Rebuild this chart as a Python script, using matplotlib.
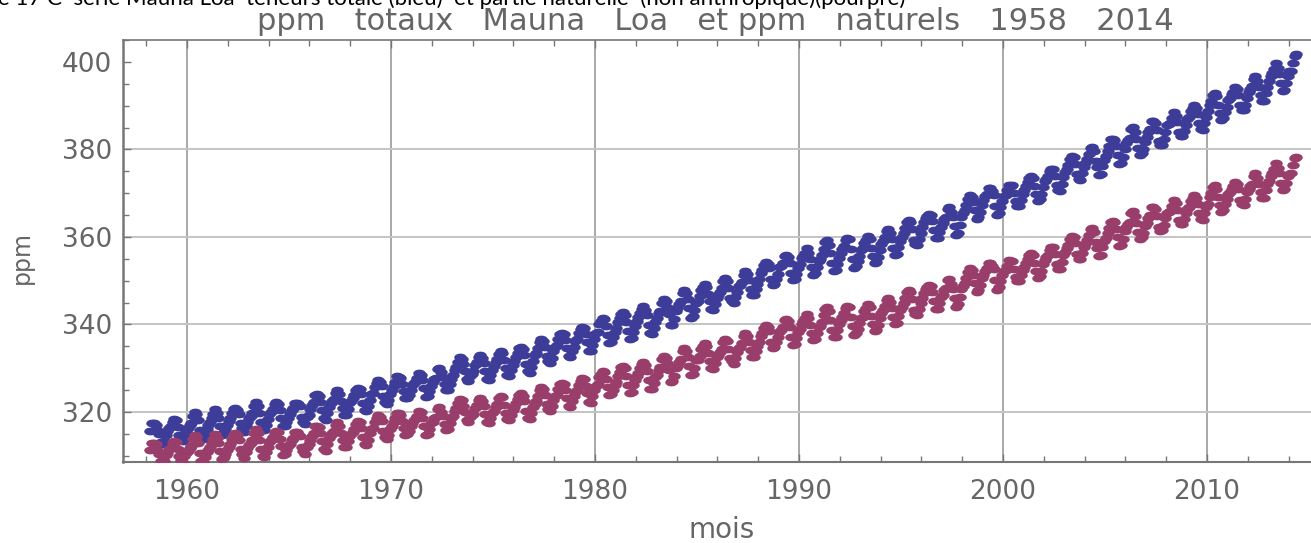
import numpy as np
import matplotlib
matplotlib.use("Agg")
import matplotlib.pyplot as plt
from matplotlib.path import Path
from matplotlib.ticker import MultipleLocator, FixedLocator

# ---------------- data ----------------
start_year = 1958
start_month = 3  # first monthly value is March 1958

# total ppm (blue), monthly, Mar 1958 -> May 2014
total_ppm = [
    315.71, 317.45, 317.50, 317.10, 315.86, 314.93, 313.20, 312.66, 313.33, 314.67,
    315.62, 316.38, 316.71, 317.72, 318.29, 318.15, 316.54, 314.80, 313.84, 313.26, 314.80, 315.58,
    316.43, 316.97, 317.58, 319.02, 320.03, 319.59, 318.18, 315.91, 314.16, 313.83, 315.00, 316.19,
    316.93, 317.70, 318.54, 319.48, 320.58, 319.77, 318.57, 316.79, 314.80, 315.38, 316.10, 317.01,
    317.94, 318.56, 319.68, 320.63, 321.01, 320.55, 319.58, 317.40, 316.26, 315.42, 316.69, 317.69,
    318.74, 319.08, 319.86, 321.39, 322.25, 321.47, 319.74, 317.77, 316.21, 315.99, 317.12, 318.31,
    319.57, 320.07, 320.73, 321.77, 322.25, 321.89, 320.44, 318.70, 316.70, 316.79, 317.79, 318.71,
    319.44, 320.44, 320.89, 322.13, 322.16, 321.87, 321.39, 318.81, 317.81, 317.30, 318.87, 319.42,
    320.62, 321.59, 322.39, 323.87, 324.01, 323.75, 322.39, 320.37, 318.64, 318.10, 319.79, 321.08,
    322.07, 322.50, 323.04, 324.42, 325.00, 324.09, 322.55, 320.92, 319.31, 319.31, 320.72, 321.96,
    322.57, 323.15, 323.89, 325.02, 325.57, 325.36, 324.14, 322.03, 320.41, 320.25, 321.31, 322.84,
    324.00, 324.42, 325.64, 326.66, 327.34, 326.76, 325.88, 323.67, 322.38, 321.78, 322.85, 324.12,
    325.03, 325.99, 326.87, 328.13, 328.07, 327.66, 326.35, 324.69, 323.10, 323.16, 323.98, 325.13,
    326.17, 326.68, 327.18, 327.78, 328.92, 328.57, 327.34, 325.46, 323.36, 323.57, 324.80, 326.01,
    326.77, 327.63, 327.75, 329.72, 330.07, 329.09, 328.05, 326.32, 324.93, 325.06, 326.50, 327.55,
    328.54, 329.56, 330.30, 331.50, 332.48, 332.07, 330.87, 329.31, 327.51, 327.18, 328.16, 328.64,
    329.35, 330.71, 331.48, 332.65, 333.09, 332.25, 331.18, 329.40, 327.44, 327.37, 328.46, 329.58,
    330.40, 331.40, 332.04, 333.31, 333.96, 333.59, 331.91, 330.06, 328.56, 328.34, 329.49, 330.76,
    331.75, 332.56, 333.50, 334.58, 334.87, 334.34, 333.05, 330.94, 329.30, 328.94, 330.31, 331.68,
    332.93, 333.42, 334.70, 336.07, 336.74, 336.27, 334.93, 332.75, 331.58, 331.16, 332.40, 333.85,
    334.97, 335.39, 336.64, 337.76, 338.01, 337.89, 336.54, 334.68, 332.76, 332.54, 333.92, 334.95,
    336.23, 336.76, 337.96, 338.89, 339.47, 339.29, 337.73, 336.09, 333.91, 333.86, 335.29, 336.73,
    338.01, 338.36, 340.08, 340.77, 341.46, 341.17, 339.56, 337.60, 335.88, 336.01, 337.10, 338.21,
    339.24, 340.48, 341.38, 342.51, 342.91, 342.25, 340.49, 338.43, 336.69, 336.86, 338.36, 339.61,
    340.75, 341.61, 342.70, 343.56, 344.13, 343.35, 342.06, 339.82, 337.97, 337.86, 339.26, 340.49,
    341.38, 342.52, 343.10, 344.94, 345.75, 345.32, 343.99, 342.39, 339.86, 339.99, 341.16, 342.99,
    343.82, 344.63, 345.38, 347.19, 347.78, 347.16, 345.79, 343.74, 341.59, 341.86, 343.31, 345.00,
    345.48, 346.41, 347.91, 348.66, 349.28, 348.65, 346.90, 345.26, 343.47, 343.35, 344.73, 346.12,
    346.78, 347.48, 348.25, 349.86, 350.52, 349.98, 348.25, 346.17, 345.48, 344.82, 346.22, 347.48,
    348.73, 348.92, 349.81, 351.40, 352.15, 351.58, 350.21, 348.20, 346.66, 346.72, 348.08, 349.28,
    350.51, 351.70, 352.50, 353.67, 354.35, 353.88, 352.80, 350.49, 348.97, 349.37, 350.42, 351.62,
    353.07, 353.43, 354.08, 355.72, 355.95, 355.44, 354.05, 351.84, 350.09, 350.33, 351.55, 352.91,
    353.86, 355.10, 355.75, 356.38, 357.38, 356.39, 354.89, 353.06, 351.38, 351.69, 353.14, 354.41,
    354.93, 355.82, 357.33, 358.77, 359.23, 358.23, 356.30, 353.97, 352.34, 352.43, 353.89, 355.21,
    356.34, 357.21, 357.97, 359.22, 359.71, 359.43, 357.15, 354.99, 353.01, 353.41, 354.42, 355.68,
    357.10, 357.42, 358.59, 359.39, 360.30, 359.64, 357.45, 355.76, 354.14, 354.23, 355.53, 357.03,
    358.36, 359.04, 360.11, 361.36, 361.78, 360.94, 359.51, 357.59, 355.86, 356.21, 357.65, 359.10,
    360.04, 361.00, 361.98, 363.44, 363.83, 363.33, 361.78, 359.33, 358.32, 358.14, 359.61, 360.82,
    362.20, 363.36, 364.28, 364.69, 365.25, 365.06, 363.69, 361.55, 359.69, 359.72, 361.04, 362.39,
    363.24, 364.21, 364.65, 366.49, 366.77, 365.73, 364.46, 362.40, 360.44, 360.98, 362.65, 364.51,
    365.39, 366.10, 367.36, 368.79, 369.56, 369.13, 367.98, 366.10, 364.16, 364.54, 365.67, 367.30,
    368.35, 369.28, 369.84, 371.15, 371.12, 370.46, 369.61, 367.06, 364.95, 365.52, 366.88, 368.26,
    369.45, 369.71, 370.75, 371.98, 371.75, 371.87, 370.02, 368.27, 367.15, 367.18, 368.53, 369.83,
    370.76, 371.69, 372.63, 373.55, 374.03, 373.40, 371.68, 369.78, 368.34, 368.61, 369.94, 371.42,
    372.70, 373.37, 373.85, 375.02, 375.65, 375.50, 374.00, 371.83, 370.66, 370.51, 372.20, 373.71,
    374.87, 375.63, 376.48, 377.74, 378.50, 378.18, 376.72, 374.31, 373.20, 373.10, 374.64, 375.93,
    377.00, 377.87, 378.88, 380.35, 380.62, 379.69, 377.47, 376.01, 374.25, 374.46, 376.16, 377.51,
    378.46, 379.73, 380.77, 382.29, 382.45, 382.21, 380.74, 378.74, 376.70, 377.00, 378.35, 380.11,
    381.38, 382.19, 382.67, 384.61, 385.03, 384.05, 382.46, 380.41, 378.85, 379.13, 380.15, 381.82,
    382.89, 383.90, 384.58, 386.50, 386.56, 386.10, 384.50, 381.99, 380.96, 381.12, 382.45, 383.95,
    385.52, 385.82, 386.03, 387.21, 388.54, 387.76, 386.36, 384.09, 383.18, 382.99, 384.19, 385.56,
    386.94, 387.48, 388.82, 389.55, 390.14, 389.48, 388.03, 386.11, 384.74, 384.43, 386.02, 387.42,
    388.71, 390.20, 391.17, 392.46, 393.00, 392.15, 390.20, 388.35, 386.85, 387.24, 388.67, 389.79,
    391.33, 391.86, 392.60, 393.25, 394.19, 393.74, 392.51, 390.13, 389.08, 389.00, 390.28, 391.86,
    393.12, 393.86, 394.40, 396.18, 396.74, 395.71, 394.36, 392.39, 391.11, 391.05, 392.98, 394.34,
    395.55, 396.80, 397.43, 398.41, 399.78, 398.61, 397.32, 395.20, 393.45, 393.70, 395.16, 396.84,
    397.85, 398.01, 399.77, 401.38, 401.78,
]

# anthropogenic part (ppm) per year 1958..2014, gap between blue and purple
anthro_ppm = [
    4.5, 4.9, 5.3, 5.6, 5.9, 6.2, 6.5, 6.8, 7.1, 7.4,
    7.7, 8.0, 8.3, 8.6, 9.0, 9.4, 9.8, 10.2, 10.6, 11.0,
    11.4, 11.7, 12.0, 12.3, 12.6, 12.9, 13.2, 13.5, 13.8, 14.1,
    14.4, 14.7, 15.0, 15.2, 15.4, 15.6, 15.8, 16.0, 16.2, 16.4,
    16.7, 17.0, 17.3, 17.6, 17.9, 18.2, 18.5, 18.8, 19.2, 19.6,
    20.1, 20.6, 21.1, 21.6, 22.2, 22.8, 23.4,
]

x_ticks = [1960, 1970, 1980, 1990, 2000, 2010]
y_ticks = [320, 340, 360, 380, 400]
y_grid = [320, 340, 360, 380]

title = "ppm   totaux   Mauna   Loa   et ppm   naturels   1958   2014"
caption = "e 17 C  série Mauna Loa  teneurs totale (bleu)  et partie naturelle  (non anthropique)(pourpre)"

# ---------------- derived ----------------
n = len(total_ppm)
month_index = np.arange(n) + (start_month - 1)
years = start_year + month_index // 12
t = start_year + (month_index + 0.5) / 12.0
total = np.array(total_ppm)
natural = total - np.array(anthro_ppm)[years - start_year]

# ---------------- figure ----------------
W, H = 1311, 543
fig = plt.figure(figsize=(W / 100, H / 100), dpi=100)
ax = fig.add_axes([123 / W, 1 - 462 / H, (W - 123) / W, (462 - 40) / H])

blue = (0.24, 0.24, 0.6)
purple = (0.6, 0.24, 0.42)
gray_txt = "#666666"

theta = np.linspace(0, 2 * np.pi, 48)
ell = Path(np.column_stack([np.cos(theta), 0.62 * np.sin(theta)]), closed=True)

ax.plot(t, total, linestyle="none", marker=ell, markersize=9.0,
        color=blue, markeredgewidth=0, zorder=3)
ax.plot(t, natural, linestyle="none", marker=ell, markersize=9.0,
        color=purple, markeredgewidth=0, zorder=4)

ax.set_xlim(1960 + (123 - 187) / 20.4, 1960 + (1311 - 187) / 20.4)
ax.set_ylim(320 - 50 / 4.375, 400 + 22 / 4.375)

# grid lines
for xv in x_ticks:
    ax.axvline(xv, color="#9a9a9a", lw=1.2, zorder=1)
for yv in y_grid:
    ax.axhline(yv, color="#c4c4c4", lw=1.4, zorder=1)

ax.xaxis.set_major_locator(FixedLocator(x_ticks))
ax.xaxis.set_minor_locator(MultipleLocator(2))
ax.yaxis.set_major_locator(FixedLocator(y_ticks))
ax.yaxis.set_minor_locator(MultipleLocator(5))

ax.tick_params(which="both", direction="in", color="#777777", width=1.0,
               top=True, right=False, labelcolor=gray_txt, labelsize=19)
ax.tick_params(which="major", length=6, pad=8)
ax.tick_params(which="minor", length=4)
ax.tick_params(axis="x", pad=12)

for side in ["left", "bottom", "top"]:
    ax.spines[side].set_color("#777777")
ax.spines["left"].set_linewidth(1.8)
ax.spines["bottom"].set_linewidth(1.5)
ax.spines["top"].set_linewidth(1.2)
ax.spines["right"].set_visible(False)

fig.text(715 / W, 1 - 22 / H, title, ha="center", va="center",
         fontsize=22, color=gray_txt)
fig.text(722 / W, 1 - 530 / H, "mois", ha="center", va="center",
         fontsize=20, color=gray_txt)
fig.text(22 / W, 1 - 258 / H, "ppm", ha="center", va="center",
         rotation=90, fontsize=17, color=gray_txt)
fig.text(-2 / W, 1 - 5 / H, caption, ha="left", va="baseline",
         fontsize=16, color="black", family=["Lato", "DejaVu Sans"])

fig.savefig("out.png", dpi=100)
